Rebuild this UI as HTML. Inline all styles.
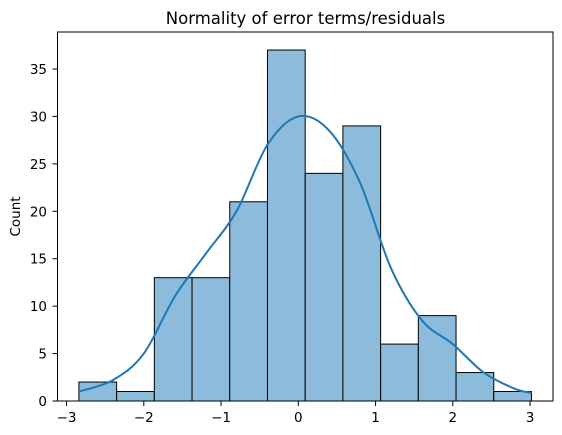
<!DOCTYPE html>
<html><head><meta charset="utf-8">
<style>
body{margin:0;background:#fff;}
svg{display:block;font-family:"DejaVu Sans","Liberation Sans",sans-serif;}
</style></head>
<body>
<svg id="chart" width="562" height="435" viewBox="0 0 562 435">
<text x="305.5" y="24" text-anchor="middle" font-size="16.5">Normality of error terms/residuals</text>
<text transform="translate(20,216.5) rotate(-90)" text-anchor="middle" font-size="13.5">Count</text>
<g id="bars"></g>
<path id="kde" fill="none" stroke="#1f77b4" stroke-width="2"/>
<rect x="57.5" y="32" width="495.5" height="369" fill="none" stroke="#000" stroke-width="1"/>
<g id="ticks"></g>
</svg>
<script>
const binStart = -2.84;
const binWidth = 0.4882;
const counts = [2,1,13,13,21,37,24,29,6,9,3,1];
const kdeX = [-2.84,-2.4,-2.0,-1.6,-1.2,-0.8,-0.4,0,0.4,0.8,1.2,1.6,2.0,2.4,2.8,3.02];
const kdeY = [1,2.2,5,11,15.5,20,27,30,28.5,23,14,8.5,6,3,1.3,0.85];
const xTicks = [-3,-2,-1,0,1,2,3];
const yTicks = [0,5,10,15,20,25,30,35];
const X = v => 298.3 + v*77.25;
const Y = v => 401 - v*9.486;
const NS='http://www.w3.org/2000/svg';
const bars=document.getElementById('bars');
counts.forEach((c,i)=>{
  const r=document.createElementNS(NS,'rect');
  const x0=X(binStart+i*binWidth), x1=X(binStart+(i+1)*binWidth);
  r.setAttribute('x',x0);r.setAttribute('width',x1-x0);
  r.setAttribute('y',Y(c));r.setAttribute('height',Y(0)-Y(c));
  r.setAttribute('fill','#8dbbdc');r.setAttribute('stroke','#000');r.setAttribute('stroke-width','1');
  
  
  bars.appendChild(r);
});
const pts=kdeX.map((v,i)=>[X(v),Y(kdeY[i])]);
let d='M'+pts[0][0]+','+pts[0][1];
for(let i=0;i<pts.length-1;i++){
  const p0=pts[i-1]||pts[i],p1=pts[i],p2=pts[i+1],p3=pts[i+2]||p2;
  d+=' C'+(p1[0]+(p2[0]-p0[0])/6)+','+(p1[1]+(p2[1]-p0[1])/6)+' '+(p2[0]-(p3[0]-p1[0])/6)+','+(p2[1]-(p3[1]-p1[1])/6)+' '+p2[0]+','+p2[1];
}
document.getElementById('kde').setAttribute('d',d);
const tg=document.getElementById('ticks');
xTicks.forEach(t=>{
  const l=document.createElementNS(NS,'line');
  l.setAttribute('x1',X(t));l.setAttribute('x2',X(t));l.setAttribute('y1',401);l.setAttribute('y2',406);l.setAttribute('stroke','#000');
  
  
  tg.appendChild(l);
  const tx=document.createElementNS(NS,'text');
  tx.setAttribute('x',X(t));tx.setAttribute('y',422);tx.setAttribute('text-anchor','middle');tx.setAttribute('font-size','13.5');
  tx.textContent=(t<0?'\u2212'+(-t):t);
  
  
  tg.appendChild(tx);
});
yTicks.forEach(t=>{
  const l=document.createElementNS(NS,'line');
  l.setAttribute('x1',52.5);l.setAttribute('x2',57.5);l.setAttribute('y1',Y(t));l.setAttribute('y2',Y(t));l.setAttribute('stroke','#000');
  
  
  tg.appendChild(l);
  const tx=document.createElementNS(NS,'text');
  tx.setAttribute('x',47);tx.setAttribute('y',Y(t)+5);tx.setAttribute('text-anchor','end');tx.setAttribute('font-size','13.5');
  tx.textContent=t;
  
  
  tg.appendChild(tx);
});
</script>
</body></html>
